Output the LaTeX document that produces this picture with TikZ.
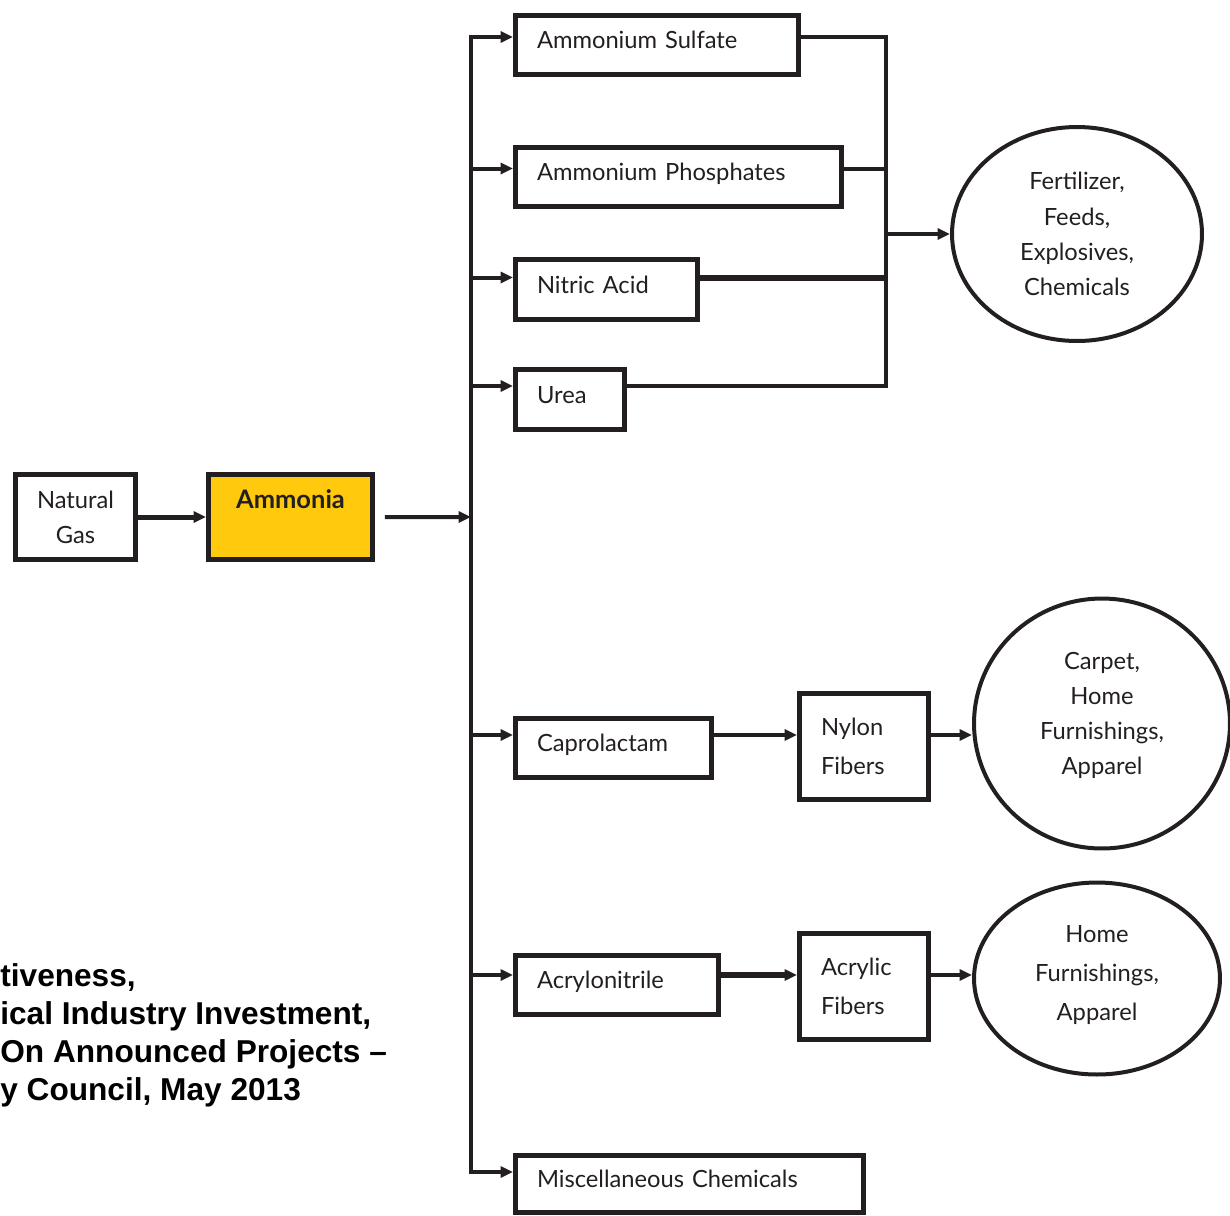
\documentclass[tikz,border=0pt]{standalone}
\usepackage{fontspec}
\setmainfont{Lato}
\newfontfamily\notefont{Liberation Sans}
\usetikzlibrary{shapes.geometric,arrows.meta}
\definecolor{ink}{RGB}{35,31,32}
\definecolor{amber}{RGB}{255,201,14}

\begin{document}
\begin{tikzpicture}[x=0.02cm,y=-0.02cm,
  font=\fontsize{13.5}{20}\selectfont,
  proc/.style={draw=ink,text=ink,line width=0.1cm,anchor=north west,inner xsep=0.43cm,inner ysep=0pt,align=left},
  oneline/.style={proc,text height=0.4cm,text depth=0.26cm},
  enduse/.style={ellipse,draw=ink,text=ink,line width=0.08cm,inner sep=0pt,align=center},
  wire/.style={draw=ink,line width=0.08cm},
  flow/.style={wire,-{Triangle[length=0.25cm,width=0.22cm]}}]

\useasboundingbox (0,0) rectangle (1230,1215);

% Feedstock
\node[proc,align=center,inner xsep=0.2cm,text width=2cm,minimum height=1.7cm] (natgas) at (13,472) {Natural\\Gas};
\node[proc,fill=amber,align=center,inner xsep=0.2cm,text width=2.88cm,minimum height=1.7cm] (ammonia) at (206,472) {\fontsize{14.5}{20}\selectfont\textbf{Ammonia}\\\mbox{}};

% Derivatives
\node[oneline,text width=4.8cm,minimum height=1.18cm] (sulfate) at (513,13) {Ammonium Sulfate};
\node[oneline,text width=5.66cm,minimum height=1.18cm] (phosph) at (513,145) {Ammonium Phosphates};
\node[oneline,text width=2.78cm,minimum height=1.2cm] (nitric) at (513,257) {Nitric Acid};
\node[oneline,text width=1.32cm,minimum height=1.2cm] (urea) at (513,367) {Urea};
\node[oneline,text width=3.06cm,minimum height=1.18cm] (capro) at (513,716) {Caprolactam};
\node[oneline,text width=3.2cm,minimum height=1.18cm] (acrylo) at (513,953) {Acrylonitrile};
\node[oneline,text width=6.1cm,minimum height=1.14cm] (misc) at (513,1153) {Miscellaneous Chemicals};

% Fibers
\node[proc,text width=1.72cm,minimum height=2.12cm] (nylon) at (797,691) {Nylon\\[2.5pt]Fibers};
\node[proc,text width=1.72cm,minimum height=2.12cm] (acrylic) at (797,931) {Acrylic\\[2.5pt]Fibers};

% End uses
\node[enduse,minimum width=5cm,minimum height=4.28cm] (fert) at (1077,234) {Fertilizer,\\Feeds,\\Explosives,\\Chemicals};
\node[enduse,minimum width=5.12cm,minimum height=5cm] (carpet) at (1102,723.5) {Carpet,\\Home\\Furnishings,\\Apparel\\[-8.6pt]\mbox{}};
\node[enduse,minimum width=4.92cm,minimum height=3.84cm] (home) at (1097,978.5) {Home\\[2pt]Furnishings,\\[2pt]Apparel\\[-13.8pt]\mbox{}};

% Source note
\node[anchor=north west,inner sep=0pt,align=left,font=\notefont\bfseries\fontsize{18}{21.7}\selectfont] (note) at (0,963)
  {tiveness,\\ical Industry Investment,\\On Announced Projects \textendash\\y Council, May 2013};

% Trunk
\coordinate (t1) at (471,37);
\coordinate (t2) at (471,168.5);
\coordinate (t3) at (471,277.5);
\coordinate (t4) at (471,386);
\coordinate (tm) at (471,517);
\coordinate (t5) at (471,735);
\coordinate (t6) at (471,975);
\coordinate (t7) at (471,1172);

% Collector
\coordinate (c1) at (886,37);
\coordinate (c2) at (886,168.5);
\coordinate (c3) at (886,277.5);
\coordinate (c4) at (886,385.5);
\coordinate (cout) at (886,234);

% Fiber rows
\coordinate (ny) at (760,735);
\coordinate (ac) at (760,975);

\draw[flow,line width=0.1cm] (natgas) -- (ammonia);
\draw[flow] ([xshift=0.2cm]ammonia.east) -- (tm);

\draw[flow] (t7) -- (t1) -- (t1 -| sulfate.west);
\draw[flow] (t1) -- (t7) -- (t7 -| misc.west);
\draw[flow] (t2) -- (t2 -| phosph.west);
\draw[flow] (t3) -- (t3 -| nitric.west);
\draw[flow] (t4) -- (t4 -| urea.west);
\draw[flow] (t5) -- (t5 -| capro.west);
\draw[flow] (t6) -- (t6 -| acrylo.west);

\draw[wire] (sulfate.east |- c1) -- (c1) -- (c4) -- (urea.east |- c4);
\draw[wire] (phosph.east |- c2) -- (c2);
\draw[wire,line width=0.12cm] (nitric.east |- c3) -- (c3);
\draw[flow] (cout) -- (fert.west);

\draw[flow] (capro.east |- ny) -- (ny -| nylon.west);
\draw[flow] (ny -| nylon.east) -- (ny -| carpet.west);
\draw[flow,line width=0.12cm] (acrylo.east |- ac) -- (ac -| acrylic.west);
\draw[flow] (ac -| acrylic.east) -- (ac -| home.west);

\end{tikzpicture}
\end{document}
